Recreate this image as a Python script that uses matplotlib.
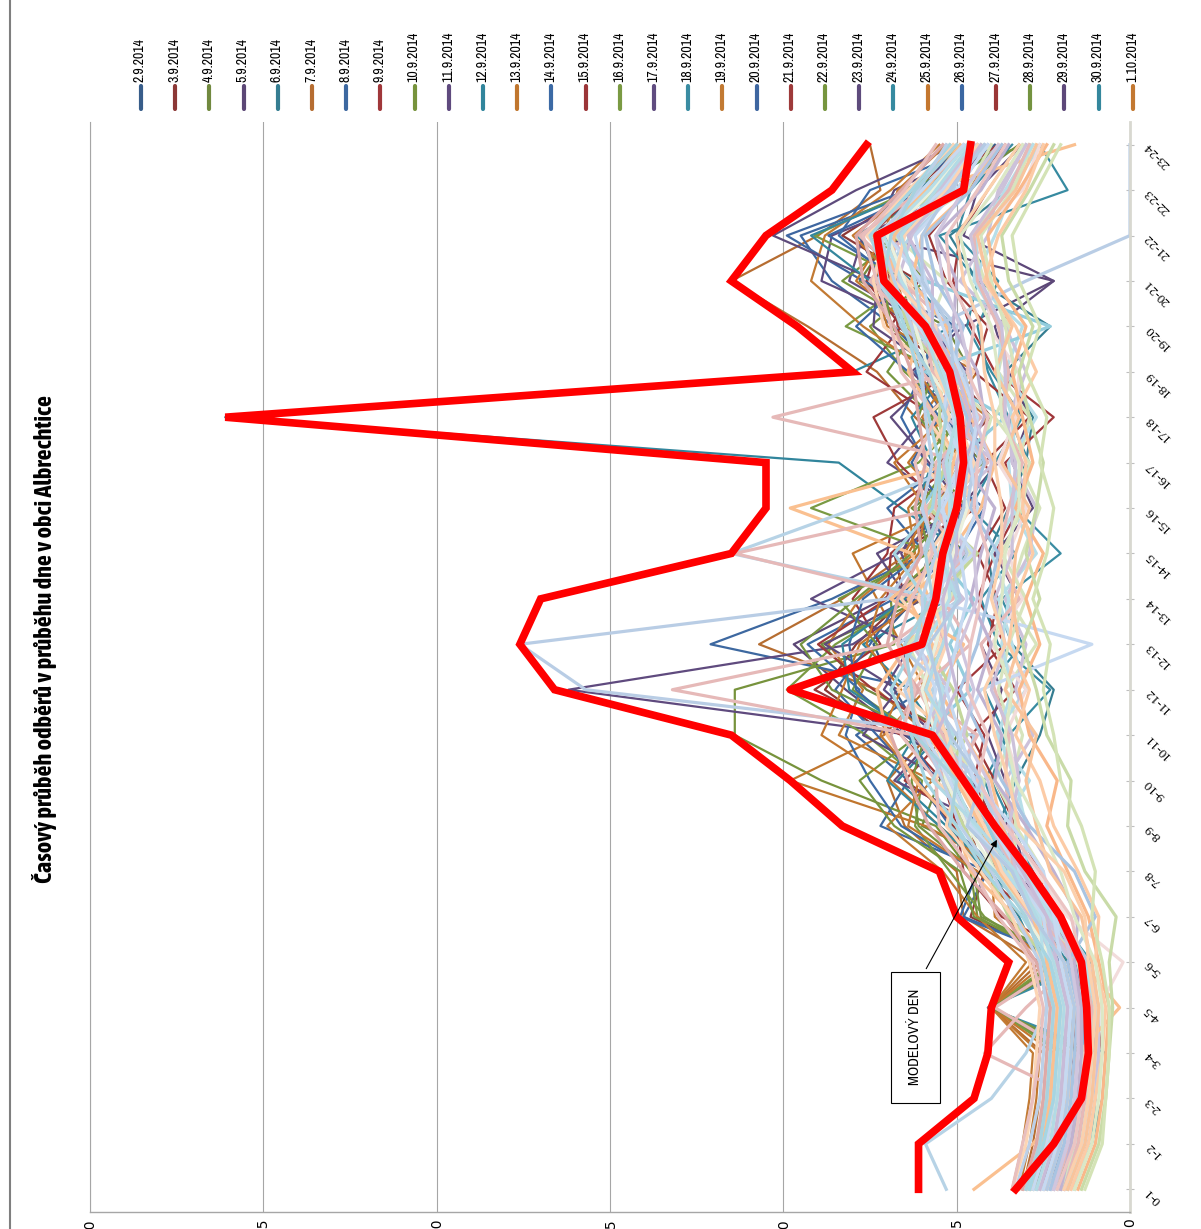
import matplotlib
matplotlib.use('Agg')
import matplotlib.pyplot as plt

plt.rcParams['font.family'] = ['Archivo Narrow', 'DejaVu Sans']

hours = ['0-1', '1-2', '2-3', '3-4', '4-5', '5-6', '6-7', '7-8', '8-9', '9-10', '10-11', '11-12',
         '12-13', '13-14', '14-15', '15-16', '16-17', '17-18', '18-19', '19-20', '20-21', '21-22',
         '22-23', '23-24']

dates = ['2.9.2014', '3.9.2014', '4.9.2014', '5.9.2014', '6.9.2014', '7.9.2014', '8.9.2014',
         '9.9.2014', '10.9.2014', '11.9.2014', '12.9.2014', '13.9.2014', '14.9.2014', '15.9.2014',
         '16.9.2014', '17.9.2014', '18.9.2014', '19.9.2014', '20.9.2014', '21.9.2014', '22.9.2014',
         '23.9.2014', '24.9.2014', '25.9.2014', '26.9.2014', '27.9.2014', '28.9.2014', '29.9.2014',
         '30.9.2014', '1.10.2014']

date_colors = ['#385D8A', '#8C3836', '#71893F', '#5C4776', '#357D91', '#B66D31',
               '#3D68A0', '#A0373A', '#77933C', '#5F4A7E', '#31859C', '#C0762E',
               '#3C6AA5', '#9B3538', '#7A9A43', '#604C80', '#3A8CA2', '#C27A33',
               '#3E66A0', '#9E3A3A', '#76953E', '#5E4B7C', '#368AA0', '#C4772F',
               '#3B67A2', '#9A3636', '#749340', '#5D4879', '#34879D', '#C37831']

days = [
    [2.2, 1.8, 1.6, 1.5, 1.4, 1.7, 2.4, 3.6, 4.4, 5.2, 6.0, 6.8, 7.4, 6.2, 5.8, 5.1, 4.6, 5.2, 5.9, 6.4, 7.2, 7.8, 5.6, 3.9],
    [2.6, 2.1, 1.9, 1.8, 4.0, 1.9, 4.6, 4.2, 5.1, 6.2, 7.0, 8.8, 7.9, 6.5, 6.8, 4.4, 5.5, 4.0, 5.1, 6.9, 6.1, 8.3, 6.2, 4.8],
    [1.8, 1.2, 1.0, 0.9, 1.1, 1.8, 3.1, 3.3, 6.0, 5.5, 5.0, 7.6, 8.9, 5.9, 4.7, 6.3, 4.2, 5.8, 4.6, 5.3, 7.8, 6.9, 5.0, 3.2],
    [2.9, 2.6, 2.5, 2.4, 2.3, 2.5, 3.0, 3.4, 3.5, 4.6, 6.5, 8.2, 9.7, 7.1, 5.2, 4.9, 3.8, 5.0, 6.3, 4.8, 2.2, 7.4, 6.8, 4.1],
    [1.6, 1.1, 1.0, 0.9, 4.1, 1.3, 2.7, 3.2, 3.8, 3.3, 2.6, 2.2, 3.4, 3.9, 4.1, 3.5, 3.0, 2.8, 3.6, 2.3, 4.4, 5.2, 3.5, 2.9],
    [3.1, 2.8, 2.6, 2.5, 4.0, 2.6, 4.8, 5.0, 6.5, 7.0, 5.8, 7.3, 10.7, 8.3, 6.4, 5.6, 4.9, 6.2, 7.3, 9.3, 11.5, 9.0, 7.2, 7.5],
    [2.0, 1.4, 1.2, 1.1, 1.2, 1.6, 4.8, 4.1, 7.2, 6.4, 7.9, 6.0, 12.1, 8.6, 5.9, 7.0, 5.3, 4.4, 5.6, 6.8, 8.6, 9.5, 6.0, 4.4],
    [1.7, 1.2, 1.0, 0.8, 1.0, 1.4, 2.3, 2.9, 3.9, 4.5, 4.2, 5.0, 3.6, 4.4, 3.9, 3.2, 3.6, 2.2, 3.9, 4.6, 5.1, 4.9, 4.1, 3.2],
    [2.6, 2.2, 2.0, 1.9, 4.0, 2.1, 4.4, 4.6, 5.6, 8.9, 11.4, 11.4, 6.8, 6.9, 5.5, 4.7, 5.7, 5.0, 6.5, 7.5, 5.9, 7.0, 6.6, 3.0],
    [2.0, 1.5, 1.3, 1.2, 1.1, 1.3, 2.6, 3.1, 4.7, 5.0, 6.3, 16.2, 8.0, 6.0, 6.6, 5.9, 4.5, 4.6, 5.3, 6.0, 8.9, 8.6, 5.4, 4.6],
    [3.0, 2.7, 2.4, 2.3, 2.2, 2.6, 3.2, 4.0, 5.3, 6.7, 5.5, 6.4, 7.7, 5.2, 4.8, 6.6, 8.4, 26.1, 8.0, 5.1, 6.3, 7.9, 5.6, 3.6],
    [3.2, 2.9, 2.7, 2.6, 4.0, 2.8, 3.5, 3.5, 5.9, 9.8, 7.1, 5.9, 6.6, 7.3, 8.0, 5.2, 6.4, 5.4, 4.4, 7.0, 7.4, 6.7, 4.8, 5.2],
    [2.1, 1.6, 1.4, 1.3, 1.4, 1.6, 4.9, 4.4, 6.6, 7.5, 8.2, 7.8, 9.3, 6.8, 5.0, 4.2, 5.9, 6.6, 6.0, 5.6, 6.8, 8.4, 7.5, 4.2],
    [1.8, 1.3, 1.1, 1.0, 1.0, 1.2, 3.7, 4.8, 5.0, 5.4, 6.6, 9.1, 7.2, 8.0, 7.0, 6.8, 5.0, 5.6, 7.6, 6.6, 7.6, 7.2, 5.7, 3.8],
    [2.8, 2.3, 2.1, 2.0, 4.0, 2.2, 4.2, 5.2, 6.2, 6.0, 7.6, 9.9, 8.5, 6.3, 5.6, 9.2, 6.1, 4.8, 5.4, 8.2, 6.4, 9.1, 6.3, 4.9],
    [2.4, 2.0, 1.8, 1.7, 1.7, 1.9, 2.5, 3.4, 4.0, 6.8, 5.6, 7.1, 6.3, 9.2, 6.7, 5.0, 7.0, 5.9, 4.7, 5.8, 8.1, 7.7, 4.9, 4.3],
    [1.7, 1.1, 0.8, 0.7, 4.1, 1.1, 2.1, 2.8, 3.4, 4.0, 3.6, 4.2, 3.1, 3.7, 2.0, 3.3, 2.9, 3.5, 4.1, 4.4, 3.8, 5.0, 4.6, 3.4],
    [3.4, 3.1, 2.9, 2.8, 4.0, 3.0, 4.4, 5.4, 7.0, 5.7, 8.4, 7.7, 8.7, 7.8, 6.2, 6.4, 5.4, 4.1, 5.8, 7.7, 9.2, 8.8, 6.9, 5.5],
    [2.4, 1.9, 1.7, 1.6, 1.7, 2.0, 3.0, 3.7, 5.2, 6.1, 7.3, 8.5, 7.5, 6.6, 5.3, 5.7, 4.4, 5.3, 6.2, 5.0, 7.7, 9.9, 6.4, 4.7],
    [2.0, 1.5, 1.3, 1.2, 1.2, 1.4, 2.8, 4.3, 4.6, 6.5, 5.3, 7.4, 9.0, 7.0, 6.9, 5.4, 6.7, 7.4, 5.0, 6.7, 6.9, 7.5, 6.1, 4.5],
    [1.9, 1.5, 1.3, 1.2, 4.0, 1.6, 4.5, 4.9, 6.8, 7.8, 6.1, 8.0, 7.3, 8.4, 5.8, 6.1, 5.2, 5.7, 7.0, 6.1, 8.3, 6.6, 5.5, 3.7],
    [2.7, 2.4, 2.2, 2.1, 2.0, 2.3, 2.9, 3.2, 4.8, 5.3, 7.7, 6.7, 8.8, 6.4, 7.3, 4.8, 5.8, 6.9, 5.5, 7.4, 7.3, 10.3, 7.9, 5.0],
    [2.3, 1.7, 1.4, 1.2, 1.3, 1.5, 2.2, 3.1, 3.7, 4.2, 3.5, 2.3, 3.8, 4.3, 3.3, 4.6, 3.9, 3.1, 4.0, 4.7, 4.4, 5.5, 1.8, 2.6],
    [2.9, 2.5, 2.3, 2.2, 4.0, 2.4, 3.9, 4.0, 5.5, 6.9, 8.9, 8.3, 7.8, 6.1, 6.5, 5.8, 4.8, 6.0, 5.1, 6.3, 7.9, 7.1, 6.7, 5.3],
    [1.9, 1.4, 1.2, 1.1, 1.1, 1.3, 2.2, 3.6, 4.3, 5.6, 6.4, 7.9, 8.1, 7.7, 6.0, 5.3, 6.3, 5.5, 6.4, 7.9, 6.5, 8.7, 5.9, 4.3],
    [2.5, 2.0, 1.8, 1.6, 1.6, 1.9, 2.4, 2.6, 3.3, 3.9, 4.6, 3.3, 4.1, 3.8, 4.4, 3.6, 4.2, 2.9, 4.5, 4.1, 5.3, 5.8, 4.7, 3.6],
    [2.1, 1.7, 1.5, 1.4, 4.0, 1.6, 4.3, 4.5, 6.1, 6.3, 5.9, 8.6, 9.5, 7.9, 6.3, 5.1, 4.9, 6.1, 5.7, 6.9, 7.1, 7.3, 5.0, 4.1],
    [1.8, 1.2, 1.0, 0.9, 0.9, 1.2, 2.6, 3.0, 3.4, 3.6, 4.1, 3.7, 4.3, 3.2, 3.9, 2.8, 3.4, 2.9, 3.5, 3.9, 2.2, 4.8, 4.4, 3.1],
    [2.2, 1.8, 1.6, 1.5, 1.5, 1.8, 2.7, 4.1, 5.5, 7.0, 6.2, 8.1, 8.3, 6.5, 5.5, 6.2, 5.7, 6.3, 5.2, 6.0, 7.5, 9.2, 6.1, 4.6],
    [2.7, 2.3, 2.1, 2.0, 1.9, 2.2, 3.1, 4.4, 6.4, 6.1, 7.2, 6.6, 7.6, 7.2, 6.1, 5.9, 6.8, 5.3, 6.1, 6.4, 6.7, 8.0, 6.3, 5.1],
]

# later days (not shown in the legend), lighter palette
later_colors = ['#FAC090', '#B9CDE5', '#E6B9B8', '#D7E4BD', '#CCC1DA', '#B7DEE8', '#FCD5B5', '#B7D3E6',
                '#E6B9B8', '#D7E4BD', '#CCC1DA', '#93CDDD', '#FAC090', '#B9CDE5', '#F2DCDB', '#C3D69B',
                '#FCD5B5', '#B9CDE5', '#E6B9B8', '#D7E4BD', '#CCC1DA', '#B7DEE8', '#FAC090', '#C6D9F1',
                '#E6B9B8', '#EBF1DE', '#CCC1DA', '#B7DEE8', '#FCD5B5', '#C6D9F1',
                '#F9B88A', '#A9C4E2', '#DDA9A8', '#C9DBA8', '#BFB2D1', '#A6D5E2', '#FCCBA6', '#C6D9F1',
                '#E8BFBE', '#D4E3B6', '#D0C6DE', '#B2DAE5', '#F8C49C', '#BCD0E8', '#EBC4C3', '#DCE8C6',
                '#C8BBD8', '#A9D2DE', '#FBD0AD', '#B4CAE3']

later_days = [
    [3.2, 2.6, 2.3, 2.1, 2.0, 2.4, 3.3, 4.6, 5.0, 6.2, 7.0, 7.3, 6.4, 5.8, 6.3, 9.8, 5.0, 5.6, 6.4, 6.0, 7.0, 7.2, 5.9, 1.6],
    [2.0, 1.5, 1.3, 1.2, 1.2, 1.5, 2.4, 3.3, 4.1, 4.8, 4.5, 15.7, 17.6, 7.0, 6.0, 5.4, 4.3, 4.8, 5.5, 5.9, 6.6, 6.9, 5.1, 4.5],
    [2.5, 2.0, 1.8, 1.7, 3.9, 1.9, 2.6, 3.4, 4.6, 5.3, 6.2, 13.2, 6.9, 5.1, 4.9, 5.9, 4.6, 10.3, 5.0, 6.2, 7.5, 6.5, 5.4, 4.4],
    [1.8, 1.4, 1.2, 1.1, 1.1, 1.3, 2.8, 2.5, 3.3, 3.4, 3.1, 3.6, 2.7, 3.5, 3.1, 2.6, 3.2, 2.9, 3.8, 3.5, 4.2, 4.6, 3.5, 2.9],
    [2.8, 2.5, 2.3, 2.2, 2.1, 2.4, 2.3, 3.8, 3.6, 4.4, 5.7, 5.4, 6.3, 4.8, 5.9, 5.3, 3.9, 5.3, 4.9, 6.6, 5.8, 7.0, 5.7, 4.8],
    [1.6, 1.2, 1.0, 0.9, 1.0, 1.2, 2.0, 3.1, 3.7, 2.9, 3.9, 3.0, 3.4, 3.8, 2.7, 3.4, 3.5, 2.7, 3.6, 3.1, 4.5, 3.9, 3.4, 2.6],
    [3.0, 2.7, 2.5, 2.4, 2.3, 2.6, 2.9, 3.6, 4.2, 5.6, 5.2, 6.7, 5.5, 6.6, 5.4, 4.6, 4.9, 5.9, 4.5, 5.7, 6.4, 7.6, 6.4, 5.1],
    [5.3, 5.9, 4.0, 3.0, 2.4, 2.2, 2.3, 2.9, 3.7, 4.5, 5.3, 5.7, 4.9, 5.5, 11.5, 7.9, 4.7, 4.4, 5.1, 6.3, 7.3, 6.3, 5.0, 4.1],
    [2.2, 1.7, 1.5, 4.2, 3.0, 1.6, 2.5, 3.0, 4.0, 5.1, 4.4, 6.2, 5.3, 6.0, 11.4, 5.5, 4.1, 5.0, 6.0, 5.2, 6.6, 7.3, 5.6, 4.6],
    [2.4, 2.0, 1.8, 1.7, 1.6, 1.9, 2.9, 3.9, 4.4, 4.2, 5.5, 5.8, 6.4, 5.2, 4.6, 5.7, 4.4, 4.0, 5.6, 5.8, 5.3, 6.8, 4.7, 4.0],
    [1.9, 1.3, 1.1, 0.9, 0.9, 1.2, 2.1, 3.2, 2.9, 3.6, 2.8, 3.3, 3.0, 3.6, 2.9, 2.7, 3.4, 3.5, 3.0, 3.6, 4.9, 4.1, 3.8, 3.0],
    [2.6, 2.2, 2.0, 1.9, 1.8, 2.1, 2.7, 3.5, 4.1, 4.6, 5.9, 4.6, 5.2, 4.5, 5.6, 6.0, 5.1, 3.6, 5.9, 2.3, 5.9, 6.4, 5.8, 4.5],
    [4.5, 2.8, 1.8, 1.5, 0.3, 1.4, 2.2, 3.1, 3.7, 4.0, 4.8, 5.5, 4.8, 6.9, 5.2, 4.3, 3.9, 4.6, 5.2, 5.3, 6.3, 6.0, 4.6, 3.8],
    [2.1, 1.6, 1.4, 1.3, 1.3, 1.5, 2.2, 3.4, 3.9, 4.3, 5.0, 5.9, 5.6, 5.3, 4.7, 5.2, 4.6, 4.4, 4.8, 5.6, 3.0, 0.0, 0.0, 0.0],
    [1.7, 1.3, 1.1, 1.0, 0.9, 0.2, 1.8, 2.7, 3.5, 3.2, 3.6, 3.0, 4.0, 3.1, 3.5, 3.0, 3.8, 3.3, 3.2, 4.1, 4.0, 4.5, 3.1, 2.6],
    [2.8, 2.4, 2.2, 2.1, 2.0, 2.3, 3.5, 4.1, 4.8, 5.4, 4.7, 5.1, 5.9, 5.6, 4.4, 5.8, 5.3, 5.5, 5.4, 6.4, 6.8, 7.4, 5.5, 4.3],
    [3.4, 3.0, 2.8, 2.7, 2.6, 2.9, 3.4, 4.3, 5.3, 5.0, 6.0, 6.4, 5.4, 6.1, 5.8, 4.9, 6.0, 5.2, 5.7, 7.1, 7.4, 7.1, 6.2, 5.0],
    [2.3, 1.8, 1.6, 1.5, 1.4, 1.7, 2.6, 3.6, 4.5, 4.4, 5.6, 5.3, 6.7, 4.9, 5.5, 4.7, 4.5, 5.4, 5.0, 5.0, 6.1, 6.7, 5.3, 4.2],
    [3.0, 2.6, 2.4, 2.3, 2.2, 2.5, 2.4, 3.3, 4.0, 4.7, 5.4, 6.1, 4.6, 5.4, 4.9, 5.6, 5.6, 4.3, 5.7, 5.9, 6.5, 7.8, 6.0, 4.7],
    [2.0, 1.6, 1.4, 1.3, 1.2, 1.5, 2.5, 3.5, 3.2, 3.9, 3.4, 3.8, 3.5, 3.0, 3.7, 3.1, 2.9, 3.9, 3.3, 3.6, 4.0, 4.3, 3.4, 2.8],
    [2.7, 2.2, 2.0, 1.9, 1.8, 2.1, 2.9, 3.7, 4.6, 5.2, 6.1, 5.2, 6.2, 5.8, 4.8, 5.1, 5.4, 4.7, 5.2, 5.6, 6.7, 6.3, 5.5, 4.5],
    [1.8, 1.4, 1.2, 1.1, 1.0, 1.3, 2.3, 3.0, 3.0, 3.3, 3.8, 3.4, 3.7, 3.5, 4.0, 3.3, 3.3, 3.4, 3.8, 3.7, 4.5, 4.4, 3.6, 2.8],
    [2.9, 2.5, 2.3, 2.2, 2.1, 2.4, 2.8, 3.8, 4.3, 5.0, 5.8, 5.9, 5.7, 6.4, 5.0, 5.3, 5.1, 4.6, 4.9, 6.0, 6.9, 6.8, 5.9, 4.9],
    [2.5, 2.1, 1.9, 1.8, 1.7, 2.0, 2.1, 3.2, 4.0, 4.9, 4.9, 4.3, 1.1, 5.9, 4.5, 5.5, 4.9, 5.1, 5.3, 5.7, 6.0, 7.0, 5.4, 4.4],
    [1.9, 1.5, 1.3, 1.2, 1.1, 1.4, 2.7, 3.4, 3.4, 3.6, 3.5, 3.9, 4.3, 3.2, 3.8, 3.5, 3.1, 3.7, 3.5, 3.8, 4.4, 4.5, 3.5, 2.9],
    [2.6, 2.3, 2.1, 2.0, 1.9, 2.2, 3.0, 3.9, 4.7, 5.3, 5.6, 6.0, 5.6, 5.3, 5.1, 4.7, 5.0, 4.8, 5.8, 6.2, 6.5, 7.0, 5.7, 4.6],
    [2.2, 1.8, 1.6, 1.5, 1.4, 1.7, 2.4, 3.3, 3.5, 3.2, 3.4, 4.0, 3.6, 3.9, 3.4, 3.4, 3.3, 3.6, 3.6, 3.7, 4.3, 4.6, 3.7, 3.0],
    [2.9, 2.6, 2.4, 2.3, 2.2, 2.5, 2.6, 3.6, 4.5, 5.1, 5.7, 5.4, 5.9, 5.2, 5.3, 5.2, 5.2, 4.9, 5.4, 5.8, 6.6, 7.1, 5.8, 4.7],
    [2.4, 2.0, 1.8, 1.7, 1.6, 1.9, 2.8, 3.7, 4.2, 4.9, 5.3, 5.8, 5.3, 5.7, 5.6, 5.0, 4.5, 5.0, 5.6, 5.6, 6.8, 6.5, 5.3, 4.4],
    [2.8, 2.4, 2.2, 2.1, 2.0, 2.3, 2.5, 3.4, 4.6, 5.2, 5.9, 5.6, 6.1, 5.5, 5.2, 5.4, 4.8, 5.4, 5.2, 6.1, 7.2, 7.3, 6.0, 4.8],
    [1.5, 1.0, 0.8, 0.7, 0.6, 0.9, 1.2, 1.8, 2.4, 2.1, 2.9, 3.2, 2.6, 3.0, 2.5, 3.3, 2.8, 3.1, 3.4, 3.0, 3.9, 4.1, 3.2, 2.4],
    [2.3, 1.9, 1.7, 1.6, 1.5, 1.8, 1.0, 1.6, 2.9, 3.7, 4.3, 4.9, 4.4, 4.1, 3.8, 4.6, 4.2, 4.7, 5.2, 4.8, 5.6, 5.9, 4.6, 3.7],
    [3.1, 2.7, 2.5, 2.4, 2.3, 2.7, 3.6, 4.8, 5.8, 6.4, 6.9, 6.1, 7.0, 6.7, 6.0, 6.2, 5.9, 6.1, 6.3, 6.8, 7.7, 7.9, 6.6, 5.4],
    [1.4, 0.9, 0.7, 0.6, 0.5, 0.6, 0.4, 1.3, 1.8, 1.7, 2.4, 2.7, 3.1, 2.6, 3.0, 2.7, 2.5, 2.9, 3.2, 2.8, 3.5, 3.7, 2.9, 2.2],
    [2.0, 1.7, 1.5, 1.4, 1.4, 1.6, 1.5, 2.2, 3.0, 3.9, 3.7, 4.4, 4.0, 4.6, 4.3, 3.9, 4.8, 4.2, 4.4, 5.1, 5.0, 5.6, 4.3, 3.5],
    [2.9, 2.5, 2.2, 2.1, 2.0, 2.3, 3.1, 4.2, 5.0, 5.9, 6.3, 6.9, 6.2, 5.9, 6.8, 5.7, 5.5, 5.8, 6.1, 6.5, 7.0, 7.5, 6.3, 5.2],
    [1.7, 1.2, 1.0, 0.8, 0.7, 1.0, 0.9, 1.5, 2.2, 2.6, 3.3, 2.9, 3.5, 3.3, 2.8, 3.1, 3.0, 3.4, 2.7, 3.3, 4.2, 3.8, 3.0, 2.5],
    [2.5, 2.1, 1.9, 1.8, 1.7, 2.0, 2.2, 2.5, 3.4, 4.5, 4.9, 5.3, 5.0, 4.7, 4.9, 4.4, 4.6, 4.4, 4.9, 5.4, 5.9, 6.2, 5.0, 4.1],
    [3.4, 3.1, 2.8, 2.6, 2.5, 2.8, 3.8, 4.5, 5.5, 5.6, 6.6, 6.2, 6.7, 6.3, 5.7, 5.9, 6.2, 5.6, 6.6, 6.9, 7.3, 7.7, 6.5, 5.6],
    [1.3, 0.8, 0.7, 0.6, 0.6, 0.8, 1.1, 1.0, 1.4, 2.0, 2.2, 2.5, 2.3, 2.8, 2.4, 2.2, 2.6, 2.4, 3.0, 2.6, 3.2, 3.4, 2.7, 2.0],
    [2.2, 1.8, 1.6, 1.5, 1.5, 1.7, 2.0, 2.9, 3.8, 4.1, 4.8, 4.5, 4.9, 4.4, 4.5, 4.2, 4.0, 4.5, 4.6, 4.9, 5.4, 5.6, 4.8, 3.8],
    [2.7, 2.3, 2.1, 2.0, 1.9, 2.2, 2.7, 3.3, 4.4, 5.7, 5.1, 5.9, 5.4, 5.0, 5.5, 5.1, 5.3, 5.0, 5.5, 6.0, 6.2, 6.6, 5.6, 4.6],
    [1.8, 1.3, 1.1, 1.0, 0.9, 1.1, 1.4, 2.3, 2.7, 3.0, 2.7, 3.6, 3.2, 3.4, 3.3, 2.9, 3.7, 3.2, 3.9, 3.4, 4.1, 4.4, 3.3, 2.7],
    [3.3, 2.9, 2.6, 2.5, 2.4, 2.6, 3.3, 4.0, 4.9, 5.4, 6.0, 6.5, 5.9, 6.0, 5.6, 6.0, 5.7, 5.9, 6.0, 6.3, 6.8, 7.2, 6.1, 5.3],
    [2.1, 1.6, 1.4, 1.3, 1.2, 1.4, 1.7, 2.6, 3.6, 4.4, 4.1, 4.7, 4.6, 4.3, 4.1, 4.5, 4.4, 4.1, 4.7, 4.5, 5.2, 5.3, 4.4, 3.6],
    [1.6, 1.1, 0.9, 0.8, 0.8, 1.0, 1.6, 2.0, 2.6, 3.3, 3.6, 3.4, 3.9, 3.7, 3.6, 3.2, 3.2, 3.7, 3.8, 4.0, 4.6, 4.9, 3.9, 3.1],
    [2.6, 2.2, 2.0, 1.9, 1.8, 2.1, 2.4, 3.1, 3.9, 4.7, 5.6, 5.0, 5.3, 5.4, 5.0, 5.0, 5.0, 4.6, 5.0, 5.7, 5.7, 6.4, 5.2, 4.3],
    [3.0, 2.6, 2.4, 2.3, 2.2, 2.5, 3.0, 3.9, 5.2, 5.0, 6.2, 6.3, 6.5, 5.7, 5.9, 5.5, 5.5, 5.3, 5.8, 6.6, 7.1, 6.9, 6.2, 5.0],
    [1.9, 1.4, 1.2, 1.1, 1.0, 1.2, 1.3, 1.9, 3.2, 3.5, 3.9, 4.2, 3.6, 4.0, 3.7, 3.7, 3.9, 3.9, 4.2, 4.3, 4.8, 5.0, 4.1, 3.2],
    [2.4, 2.0, 1.8, 1.7, 1.6, 1.9, 2.8, 3.4, 4.7, 4.3, 5.2, 5.5, 5.8, 4.9, 5.2, 4.8, 4.7, 4.9, 5.1, 5.2, 6.0, 6.0, 5.2, 4.2],
]

max_day = [6.1, 6.1, 4.5, 4.1, 4.0, 3.5, 5.0, 5.5, 8.3, 9.8, 11.5, 16.6, 17.6, 17.0, 11.5, 10.5,
           10.5, 26.1, 8.0, 9.6, 11.5, 10.5, 8.6, 7.6]
model_day = [3.3, 2.2, 1.4, 1.2, 1.25, 1.4, 2.0, 2.9, 3.9, 4.8, 5.7, 9.8, 6.0, 5.6, 5.4, 5.0,
             4.8, 4.9, 5.2, 5.9, 7.1, 7.3, 4.8, 4.6]

value_ticks = [0, 5, 10, 15, 20, 25, 30]

W, H = 1201, 1229
fig = plt.figure(figsize=(W / 100, H / 100), dpi=100)

# the whole chart is turned on its side: values run right-to-left, hours bottom-to-top
ax = fig.add_axes([90 / W, 1 - 1212 / H, 1040 / W, 1090 / H])
pos = list(range(len(hours)))

for vals, c in zip(days, date_colors):
    ax.plot(vals, pos, color=c, lw=1.6)
for vals, c in zip(later_days, later_colors):
    ax.plot(vals, pos, color=c, lw=2.3)
ax.plot(model_day, pos, color='#FF0000', lw=5.5)
ax.plot(max_day, pos, color='#FF0000', lw=5.5, solid_joinstyle='miter')

ax.set_xlim(30, 0)
ax.set_ylim(-0.5, 23.5)
ax.set_xticks(value_ticks)
ax.set_xticklabels([str(v) for v in value_ticks], rotation=90, fontsize=10,
                   family='DejaVu Sans')
ax.tick_params(axis='x', length=0, pad=4.5)
ax.xaxis.grid(True, color='#A6A6A6', lw=0.8)
ax.set_axisbelow(True)

ax.yaxis.tick_right()
ax.set_yticks(pos)
ax.set_yticklabels(hours, rotation=135, rotation_mode='anchor', ha='right', va='center',
                   fontsize=9.5, family=['Liberation Serif', 'DejaVu Serif'])
ax.tick_params(axis='y', direction='inout', length=6, color='#BFBFBF', pad=9)

ax.spines['top'].set_visible(False)
ax.spines['left'].set_color('#A6A6A6')
ax.spines['left'].set_linewidth(0.8)
ax.spines['bottom'].set_color('#A6A6A6')
ax.spines['bottom'].set_linewidth(1.0)
ax.spines['right'].set_color('#D8D8D0')
ax.spines['right'].set_linewidth(2)

ax.annotate('MODELOVÝ DEN', xy=(3.8, 7.75), xytext=(6.2, 3.35), rotation=90,
            ha='center', va='center', fontsize=10.5,
            bbox=dict(boxstyle='square,pad=1.2', fc='white', ec='black', lw=0.8),
            arrowprops=dict(arrowstyle='-|>', color='black', lw=0.8, mutation_scale=10,
                            relpos=(0.5, 1.0)))

# overlay in pixel coordinates for title, legend and page border
lay = fig.add_axes([0, 0, 1, 1], zorder=-1)
lay.set_xlim(0, W)
lay.set_ylim(H, 0)
lay.axis('off')

lay.plot([10, 10], [0, H], color='#7F7F7F', lw=1.5)
lay.text(45, 639, 'Časový průběh odběrů v průběhu dne v obci Albrechtice', rotation=90,
         ha='center', va='center', fontsize=17.5, fontweight='bold',
         family=['Asap Condensed', 'DejaVu Sans'])

for i, (d, c) in enumerate(zip(dates, date_colors)):
    x = 141 + i * 34.2
    lay.plot([x, x], [86, 109], color=c, lw=3, solid_capstyle='round')
    lay.text(x - 1, 82, d, rotation=90, ha='center', va='bottom', fontsize=10)

fig.savefig('out.png', dpi=100)
